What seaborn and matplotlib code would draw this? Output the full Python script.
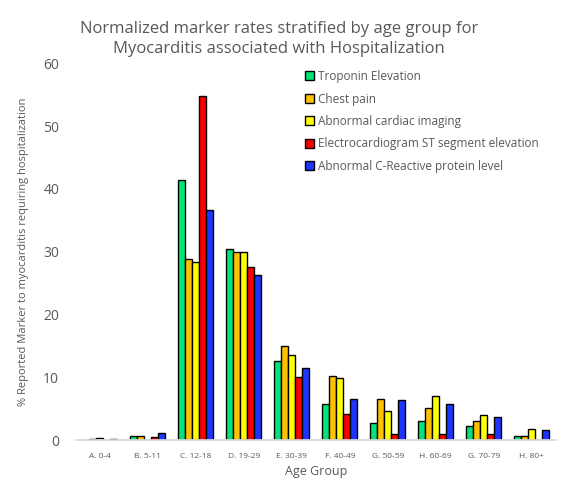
import matplotlib
matplotlib.use("Agg")
import matplotlib.pyplot as plt
import seaborn as sns
import pandas as pd

age_groups = ["A. 0-4", "B. 5-11", "C. 12-18", "D. 19-29", "E. 30-39",
              "F. 40-49", "G. 50-59", "H. 60-69", "G. 70-79", "H. 80+"]
series_names = ["Troponin Elevation", "Chest pain", "Abnormal cardiac imaging",
                "Electrocardiogram ST segment elevation", "Abnormal C-Reactive protein level"]
troponin = [0.0, 0.7, 41.4, 30.4, 12.6, 5.7, 2.7, 3.1, 2.2, 0.6]
chest_pain = [0.1, 0.7, 28.8, 29.9, 14.9, 10.2, 6.6, 5.1, 3.0, 0.6]
imaging = [0.4, 0.0, 28.4, 29.9, 13.5, 9.9, 4.6, 7.0, 4.0, 1.8]
ecg_st = [0.0, 0.5, 54.8, 27.5, 10.0, 4.2, 0.9, 0.9, 0.9, 0.0]
crp = [0.1, 1.1, 36.6, 26.3, 11.4, 6.6, 6.3, 5.7, 3.7, 1.6]
colors = ["#00E676", "#FFC000", "#FFFF00", "#FF0000", "#1F35FF"]

rows = []
for name, vals in zip(series_names, [troponin, chest_pain, imaging, ecg_st, crp]):
    for g, v in zip(age_groups, vals):
        rows.append({"Age Group": g, "Marker": name, "Value": v})
df = pd.DataFrame(rows)

sns.set_theme(style="white")
plt.rcParams["font.family"] = ["Open Sans", "DejaVu Sans"]

fig = plt.figure(figsize=(5.7, 4.9), dpi=100)
ax = fig.add_axes([0.133, 0.102, 0.842, 0.769])
sns.barplot(data=df, x="Age Group", y="Value", hue="Marker", order=age_groups,
            hue_order=series_names, palette=colors, width=0.73, saturation=1,
            edgecolor="black", linewidth=1.0, ax=ax, errorbar=None)

ax.set_ylim(0, 60)
ax.set_yticks(range(0, 61, 10))
ax.tick_params(axis="y", labelsize=10, colors="#595959", length=0, pad=12)
ax.tick_params(axis="x", labelsize=6, colors="#595959", length=0, pad=9)
for s in ["top", "right", "left"]:
    ax.spines[s].set_visible(False)
ax.spines["bottom"].set_color("#D9D9D9")
ax.set_xlabel("Age Group", fontsize=9, color="#595959", labelpad=4)
ax.set_ylabel("% Reported Marker to myocarditis requiring hospitalization",
              fontsize=8, color="#595959", labelpad=10)

ax.legend(loc="upper left", bbox_to_anchor=(0.455, 1.01), frameon=False,
          fontsize=8.5, handlelength=0.8, handleheight=0.8, handletextpad=0.3,
          labelspacing=0.8, labelcolor="#595959", borderaxespad=0.5)

fig.text(0.49, 0.958, "Normalized marker rates stratified by age group for\nMyocarditis associated with Hospitalization",
         ha="center", va="top", fontsize=12, color="#595959", linespacing=1.4)

fig.savefig("out.png", dpi=100)
